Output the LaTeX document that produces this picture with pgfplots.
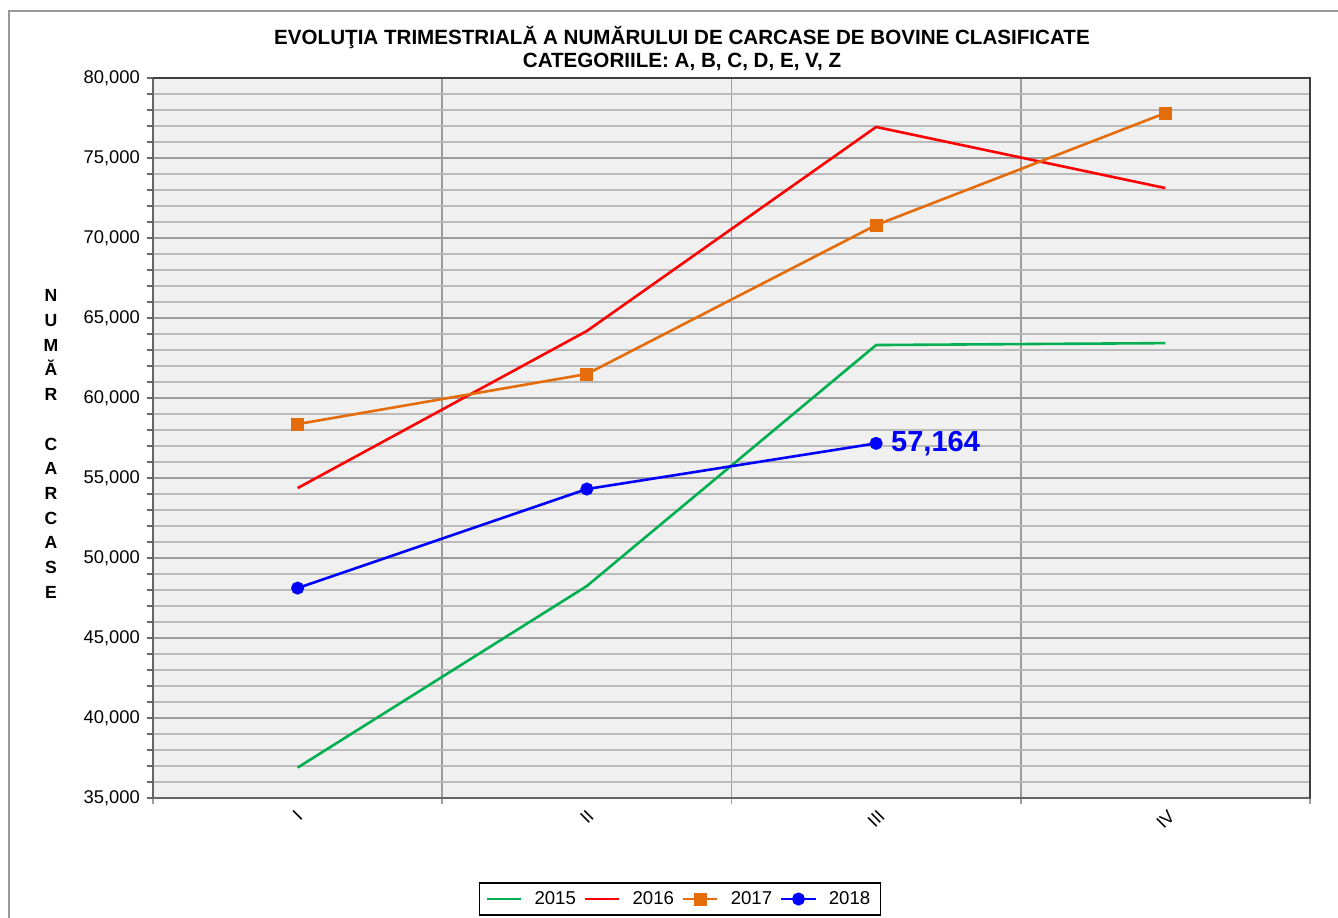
\documentclass[border=0pt]{standalone}
\usepackage{pgfplots}
\pgfplotsset{compat=1.18}
\usepackage{fontspec}
\setmainfont{Liberation Sans}
\definecolor{bg}{HTML}{F0F0F0}
\definecolor{gmaj}{HTML}{9C9C9C}
\definecolor{gmin}{HTML}{BBBBBB}
\definecolor{c15}{HTML}{00B050}
\definecolor{c16}{HTML}{FF0000}
\definecolor{c17}{HTML}{E46C0A}
\definecolor{c18}{HTML}{0000FF}
\definecolor{frame}{HTML}{999999}
\begin{document}
\begin{tikzpicture}
\useasboundingbox (0,0) rectangle (669pt,458.5pt);
\draw[frame, line width=1.2pt] (4.5pt,-2pt) -- (4.5pt,453pt) -- (672pt,453pt);
\node[align=center, font=\bfseries\fontsize{10.3}{11.5}\selectfont] at (341pt,434.25pt)
  {EVOLUŢIA TRIMESTRIALĂ A NUMĂRULUI DE CARCASE DE BOVINE CLASIFICATE\\CATEGORIILE: A, B, C, D, E, V, Z};
\node[align=center, font=\bfseries\fontsize{8.8}{12.35}\selectfont] at (25.5pt,236.5pt)
  {N\\U\\M\\Ă\\R\\ \\C\\A\\R\\C\\A\\S\\E};
\begin{axis}[
  at={(76.5pt,59.5pt)}, anchor=south west,
  width=578.5pt, height=360pt, scale only axis,
  xmin=-0.5, xmax=3.5, ymin=35000, ymax=80000,
  tick pos=left,
  xtick={-0.5,0.5,1.5,2.5,3.5}, xticklabels={},
  xmajorgrids,
  x tick style={gmaj, line width=0.8pt},
  extra x ticks={0,1,2,3},
  extra x tick labels={\rotatebox{45}{I},\rotatebox{45}{II},\rotatebox{45}{III},\rotatebox{45}{IV}},
  extra x tick style={grid=none, major tick length=0pt, tick style={draw=none},
    xticklabel style={anchor=north, yshift=-2pt, font=\fontsize{9}{11}\selectfont}},
  ytick={35000,40000,...,80000},
  scaled y ticks=false,
  yticklabel style={/pgf/number format/fixed, /pgf/number format/1000 sep={,}, /pgf/number format/assume math mode=true, font=\fontsize{9.2}{11}\selectfont},
  minor y tick num=4,
  ymajorgrids, yminorgrids,
  major grid style={gmaj, line width=0.8pt},
  minor grid style={gmin, line width=0.7pt},
  tick align=outside,
  major tick length=3pt, minor tick length=3pt,
  y tick style={gray!80!black, line width=0.7pt},
  axis background/.style={fill=bg},
  axis line style={gray!80!black, line width=1pt},
  legend columns=4,
  legend style={at={(0.4555,-0.1403)}, anchor=center, draw=black, line width=0.6pt,
    font=\fontsize{9.3}{11}\selectfont, column sep=4pt, inner ysep=2pt,
    /tikz/every even column/.append style={column sep=2pt}},
  legend cell align=left,
  clip=false,
]
\addplot[c15, line width=1.3pt, mark=none] coordinates {(0,36900) (1,48250) (2,63310) (3,63430)};
\addlegendentry{2015}
\addplot[c16, line width=1.3pt, mark=none] coordinates {(0,54370) (1,64190) (2,76940) (3,73120)};
\addlegendentry{2016}
\addplot[c17, line width=1.3pt, mark=square*, mark size=2.6pt, mark options={solid, fill=c17}] coordinates {(0,58370) (1,61500) (2,70810) (3,77810)};
\addlegendentry{2017}
\addplot[c18, line width=1.3pt, mark=*, mark size=2.6pt, mark options={solid, fill=c18}] coordinates {(0,48120) (1,54310) (2,57164)};
\addlegendentry{2018}
\node[anchor=west, text=c18, font=\bfseries\fontsize{14.5}{16}\selectfont, xshift=4pt] at (axis cs:2,57164) {57,164};
\draw[black!75, line width=1.3pt] (rel axis cs:0,1) -- (rel axis cs:1,1) -- (rel axis cs:1,0);
\end{axis}
\end{tikzpicture}
\end{document}
